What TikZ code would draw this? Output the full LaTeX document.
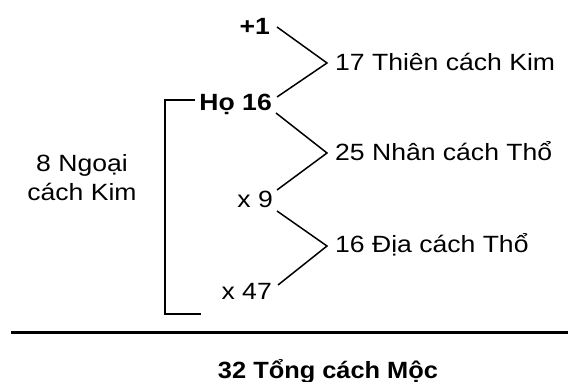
\documentclass[tikz,border=0pt]{standalone}
\usepackage{fontspec}
\setmainfont{Liberation Sans}[FakeStretch=1.13]
\newfontfamily\titlefont{Liberation Sans}[FakeStretch=1.08]
\begin{document}
\begin{tikzpicture}[x=1pt,y=-1pt,
  lbl/.style={inner sep=0pt,font=\fontsize{23.5}{29}\selectfont},
  blbl/.style={lbl,font=\fontsize{23.5}{29}\selectfont\bfseries},
  conn/.style={line width=1.5pt},
  brk/.style={line width=2pt},
  rule/.style={line width=3pt}]
\useasboundingbox (0,0) rectangle (568,382);
% left operands
\node[blbl,anchor=base east] (plus) at (270,35) {+1};
\node[blbl,anchor=base east] (ho) at (272,111) {Họ 16};
\node[lbl,anchor=base east] (x9) at (273,208) {x 9};
\node[lbl,anchor=base east] (x47) at (272,300) {x 47};
% vertices
\coordinate (v1) at (327,63);
\coordinate (v2) at (327,153);
\coordinate (v3) at (327,246);
% results
\node[lbl,anchor=base west] (thien) at (335,71) {17 Thiên cách Kim};
\node[lbl,anchor=base west] (nhan) at (335,161) {25 Nhân cách Thổ};
\node[lbl,anchor=base west] (dia) at (335,253) {16 Địa cách Thổ};
% left text
\node[lbl,align=center,anchor=base] (ngoai) at (82,201) {8 Ngoại\\cách Kim};
% title
\node[inner sep=0pt,font=\titlefont\fontsize{23.5}{29}\selectfont\bfseries,anchor=base] (tong) at (328,378) {32 Tổng cách Mộc};
% connectors
\draw[conn] ([shift={(7,-8)}]plus.base east) -- (v1) -- ([shift={(5,-14)}]ho.base east);
\draw[conn] ([shift={(4,2)}]ho.base east) -- (v2) -- ([shift={(4,-18)}]x9.base east);
\draw[conn] ([shift={(4,3)}]x9.base east) -- (v3) -- ([shift={(6,-15)}]x47.base east);
% bracket
\coordinate (bkend) at (201,314);
\draw[brk] ([shift={(-4,-11)}]ho.base west) -- (165,100) -- (165,314) -- (bkend);
% main rule
\coordinate (ruleL) at (11,332);
\coordinate (ruleR) at (568,332);
\draw[rule] (ruleL) -- (ruleR);
\end{tikzpicture}
\end{document}
